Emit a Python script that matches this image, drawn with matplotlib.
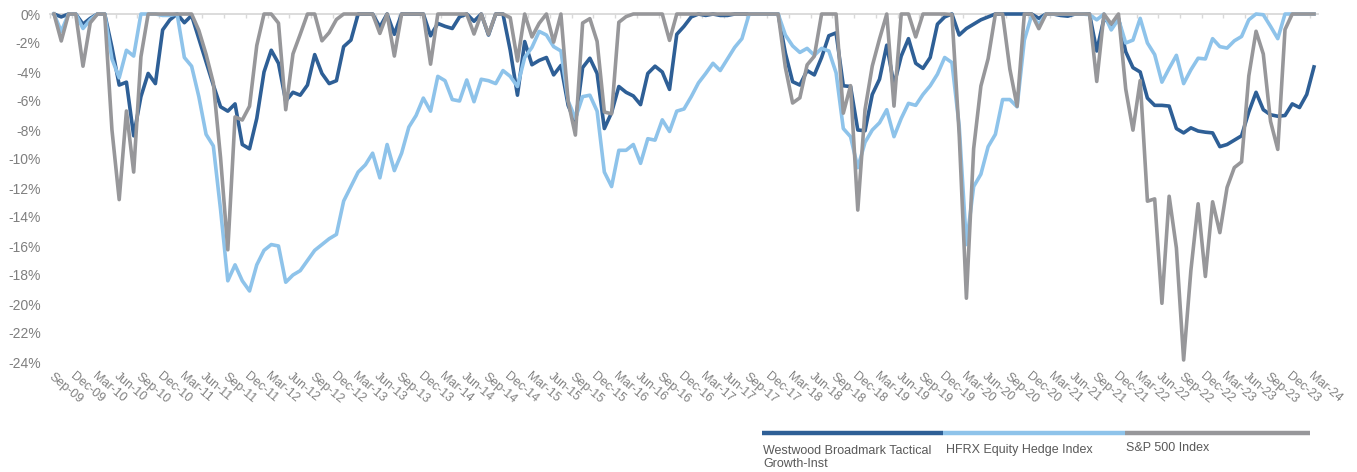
import matplotlib
matplotlib.use("Agg")
import matplotlib.pyplot as plt
import numpy as np
from matplotlib.lines import Line2D

plt.rcParams['font.family'] = ['Liberation Sans', 'DejaVu Sans']

# ---------------- data (drawdown, %) : monthly Sep-09 .. Mar-24 ----------------
series_names = ["Westwood Broadmark Tactical\nGrowth-Inst", "HFRX Equity Hedge Index", "S&P 500 Index"]

westwood = [
    0, -0.2, 0, 0,                                                          # 2009 Sep-Dec
    -0.7, -0.3, 0, 0, -2.3, -4.9, -4.7, -8.4, -5.7, -4.1, -4.8, -1.1,       # 2010
    -0.4, 0, -0.6, -0.1, -1.7, -3.3, -4.9, -6.4, -6.7, -6.2, -9.0, -9.3,    # 2011
    -7.2, -4.0, -2.5, -3.4, -6.0, -5.4, -5.6, -4.9, -2.8, -4.1, -4.8, -4.6, # 2012
    -2.25, -1.8, 0, 0, 0, -0.9, 0, -1.4, 0, 0, 0, 0,                        # 2013
    -1.5, -0.65, -0.85, -1.0, -0.2, 0, -0.5, 0, -1.45, 0, 0, -2.5,          # 2014
    -5.6, -1.9, -3.5, -3.2, -3.0, -4.2, -3.55, -6.3, -7.5, -3.7, -3.05, -4.1,   # 2015
    -7.9, -6.8, -5.0, -5.4, -5.65, -6.25, -4.1, -3.6, -4.0, -5.2, -1.4, -0.85,  # 2016
    -0.2, 0, -0.1, 0, -0.1, -0.1, 0, 0, 0, 0, 0, 0,                         # 2017
    0, -2.7, -4.67, -4.9, -3.9, -4.2, -3.0, -1.5, -1.3, -4.95, -5.0, -8.0,  # 2018
    -8.05, -5.55, -4.5, -2.15, -4.9, -2.9, -1.7, -3.4, -3.75, -3.0, -0.7, -0.2,  # 2019
    0, -1.45, -1.0, -0.7, -0.4, -0.2, 0, 0, 0, 0, 0, 0,                     # 2020
    -0.3, 0, 0, -0.1, -0.15, 0, 0, 0, -2.55, -0.3, -0.75, -0.3,             # 2021
    -2.6, -3.7, -4.0, -5.8, -6.3, -6.3, -6.35, -7.9, -8.2, -7.85, -8.07, -8.15,  # 2022
    -8.2, -9.15, -9.0, -8.7, -8.4, -6.75, -5.4, -6.6, -6.95, -7.05, -7.0, -6.2,  # 2023
    -6.45, -5.55, -3.65,                                                    # 2024 Jan-Mar
]

hfrx = [
    0, -1.2, 0, 0,
    -1.0, -0.4, 0, 0, -3.1, -4.4, -2.5, -2.9, 0, 0, 0, -0.1,
    -0.1, 0, -3.0, -3.6, -5.7, -8.3, -9.1, -13.5, -18.4, -17.3, -18.4, -19.1,
    -17.3, -16.3, -15.9, -16.0, -18.5, -18.0, -17.7, -17.0, -16.3, -15.9, -15.5, -15.2,
    -12.9, -11.9, -10.9, -10.4, -9.6, -11.3, -9.0, -10.8, -9.6, -7.8, -7.0, -5.8,
    -6.7, -4.3, -4.6, -5.9, -6.0, -4.55, -6.05, -4.5, -4.6, -4.8, -3.9, -4.3,
    -5.0, -3.0, -2.3, -1.2, -1.45, -2.25, -2.55, -6.0, -7.2, -5.7, -5.6, -6.7,
    -10.9, -11.9, -9.4, -9.4, -9.0, -10.3, -8.6, -8.7, -7.3, -8.1, -6.7, -6.55,
    -5.7, -4.75, -4.1, -3.4, -3.9, -3.1, -2.3, -1.7, 0, 0, 0, 0,
    0, -1.45, -2.2, -2.65, -2.37, -2.85, -2.37, -2.55, -4.05, -7.9, -8.46, -10.6,
    -8.85, -8.0, -7.5, -6.6, -8.46, -7.2, -6.16, -6.3, -5.55, -4.95, -4.15, -3.0,
    -3.35, -7.7, -15.9, -11.9, -11.05, -9.15, -8.3, -5.9, -5.9, -6.4, -1.8, -0.1,
    -0.7, 0, 0, 0, 0, 0, 0, -0.05, -0.4, 0, -1.1, -0.35,
    -2.0, -1.8, -0.3, -2.0, -2.8, -4.7, -3.75, -2.85, -4.8, -3.85, -3.05, -3.1,
    -1.7, -2.25, -2.35, -1.85, -1.55, -0.4, 0, -0.05, -0.85, -1.7, 0, 0,
    0, 0, 0,
]

sp500 = [
    0, -1.86, 0, 0,
    -3.60, -0.61, 0, 0, -7.99, -12.80, -6.69, -10.90, -2.95, 0, 0, 0,
    0, 0, 0, 0, -1.13, -2.78, -4.75, -9.92, -16.26, -7.10, -7.31, -6.36,
    -2.17, 0, 0, -0.63, -6.60, -2.75, -1.40, 0, 0, -1.85, -1.28, -0.38,
    0, 0, 0, 0, 0, -1.34, 0, -2.90, 0, 0, 0, 0,
    -3.46, 0, 0, 0, 0, 0, -1.38, 0, -1.40, 0, 0, -0.25,
    -3.24, 0, -1.58, -0.64, 0, -1.94, 0, -6.03, -8.35, -0.62, -0.32, -1.89,
    -6.76, -6.88, -0.57, -0.18, 0, 0, 0, 0, 0, -1.82, 0, 0,
    0, 0, 0, 0, 0, 0, 0, 0, 0, 0, 0, 0,
    0, -3.69, -6.14, -5.78, -3.51, -2.91, 0, 0, 0, -6.84, -4.94, -13.52,
    -6.59, -3.59, -1.72, 0, -6.35, 0, 0, -1.58, 0, 0, 0, 0,
    -0.04, -8.27, -19.60, -9.29, -4.97, -3.08, 0, 0, -3.80, -6.36, 0, 0,
    -1.01, 0, 0, 0, 0, 0, 0, 0, -4.65, 0, -0.69, 0,
    -5.17, -8.01, -4.59, -12.91, -12.75, -19.95, -12.57, -16.14, -23.86, -17.69, -13.09, -18.10,
    -12.95, -15.08, -11.96, -10.59, -10.20, -4.27, -1.19, -2.76, -7.40, -9.34, -1.07, 0,
    0, 0, 0,
]

tick_labels = ["Sep-09", "Dec-09", "Mar-10", "Jun-10", "Sep-10", "Dec-10", "Mar-11", "Jun-11",
               "Sep-11", "Dec-11", "Mar-12", "Jun-12", "Sep-12", "Dec-12", "Mar-13", "Jun-13",
               "Sep-13", "Dec-13", "Mar-14", "Jun-14", "Sep-14", "Dec-14", "Mar-15", "Jun-15",
               "Sep-15", "Dec-15", "Mar-16", "Jun-16", "Sep-16", "Dec-16", "Mar-17", "Jun-17",
               "Sep-17", "Dec-17", "Mar-18", "Jun-18", "Sep-18", "Dec-18", "Mar-19", "Jun-19",
               "Sep-19", "Dec-19", "Mar-20", "Jun-20", "Sep-20", "Dec-20", "Mar-21", "Jun-21",
               "Sep-21", "Dec-21", "Mar-22", "Jun-22", "Sep-22", "Dec-22", "Mar-23", "Jun-23",
               "Sep-23", "Dec-23", "Mar-24"]

y_ticks = [0, -2, -4, -6, -8, -10, -12, -14, -16, -18, -20, -22, -24]
y_labels = ["0%", "-2%", "-4%", "-6%", "-8%", "-10%", "-12%", "-14%", "-16%", "-18%", "-20%", "-22%", "-24%"]

colors = ["#2E5F96", "#8EC3EA", "#97979A"]

# ---------------- figure ----------------
W, H = 1357, 472
fig = plt.figure(figsize=(W / 100, H / 100), dpi=100)
left_px, right_px, top_px, bot_px = 50.4, 1317.6, 14, 362
ax = fig.add_axes([left_px / W, 1 - bot_px / H, (right_px - left_px) / W, (bot_px - top_px) / H])

x = np.arange(len(sp500))
for vals, c in zip([westwood, hfrx, sp500], colors):
    ax.plot(x, vals, color=c, lw=2.6, clip_on=False, solid_joinstyle='round', zorder=3)

ax.set_xlim(-0.5, len(sp500) - 0.5)
ax.set_ylim(-24, 0)

ax.set_yticks(y_ticks)
ax.set_yticklabels(y_labels)
ax.tick_params(axis='y', length=0, pad=7, labelsize=10, labelcolor='#7F7F7F')

ax.set_xticks(np.arange(0, len(sp500), 3))
ax.set_xticklabels(tick_labels)
ax.set_xticks(np.arange(-0.5, len(sp500), 3), minor=True)
ax.tick_params(axis='x', which='major', length=0, pad=6, labelsize=9, labelcolor='#808080')
ax.tick_params(axis='x', which='minor', bottom=False, top=True, direction='in', length=3,
               width=1, color='#D9D9D9')
for lbl in ax.get_xticklabels():
    lbl.set_rotation(-40)
    lbl.set_ha('left')
    lbl.set_va('top')
    lbl.set_rotation_mode('anchor')

for s in ['left', 'right', 'bottom']:
    ax.spines[s].set_visible(False)
ax.spines['top'].set_color('#D9D9D9')
ax.spines['top'].set_linewidth(1.3)
ax.spines['top'].set_zorder(1)

# ---------------- legend (below, right) ----------------
seg = [(762, 943), (943, 1125), (1125, 1310)]
bar_y = 432.5
text_pos = [(763, 451.5), (946, 451.5), (1126, 449)]
for (x0, x1), c, name, (tx, ty) in zip(seg, colors, series_names, text_pos):
    fig.add_artist(Line2D([x0 / W, x1 / W], [1 - bar_y / H, 1 - bar_y / H],
                          transform=fig.transFigure, color=c, lw=3.2, solid_capstyle='butt'))
    fig.text(tx / W, 1 - (ty - 7) / H, name, ha='left', va='top', fontsize=9,
             color='#595959', linespacing=1.15)

fig.savefig("out.png", dpi=100)
